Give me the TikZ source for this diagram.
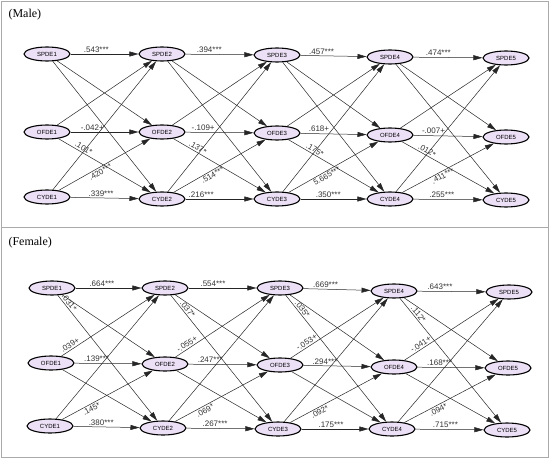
\documentclass[tikz,border=0pt]{standalone}
\usepackage{fontspec}
\setmainfont{Liberation Sans}
\newfontfamily\titlefont{Liberation Serif}
\usetikzlibrary{arrows.meta,shapes.geometric}
\definecolor{nodefill}{RGB}{236,224,246}
\definecolor{framegray}{RGB}{170,170,170}
\tikzset{
    % variable ellipse
    varnode/.style={
        ellipse,
        draw=black,
        line width=1.1pt,
        fill=nodefill,
        minimum width=46pt,
        minimum height=14pt,
        inner sep=0pt,
        font=\fontsize{6}{6}\selectfont
    },
    % path arrow
    patharrow/.style={
        line width=0.5pt,
        black!85,
        -{Triangle[length=9pt, width=5pt]}
    },
    coef/.style={
        font=\fontsize{8}{8}\selectfont,
        inner sep=1.5pt,
        black!80
    },
    paneltitle/.style={
        anchor=west,
        font=\titlefont\fontsize{12}{12}\selectfont
    }
}

\begin{document}
\begin{tikzpicture}[x=1pt,y=-1pt]
   \useasboundingbox (0,0) rectangle (554,460);

   % frame
   \draw[framegray, line width=0.8pt] (1,1) rectangle (548,457);
   \draw[framegray, line width=0.8pt] (1,227.5) -- (548,227.5);

   % (Male)
   \node[paneltitle] (mtitle) at (5,15) {(Male)};
   \node[varnode] (ms1) at (47,54) {SPDE1};
   \node[varnode] (ms2) at (162,54) {SPDE2};
   \node[varnode] (ms3) at (277,55) {SPDE3};
   \node[varnode] (ms4) at (390,57) {SPDE4};
   \node[varnode] (ms5) at (506,58) {SPDE5};
   \node[varnode] (mo1) at (47,132) {OFDE1};
   \node[varnode] (mo2) at (162,132) {OFDE2};
   \node[varnode] (mo3) at (277,133) {OFDE3};
   \node[varnode] (mo4) at (390,135) {OFDE4};
   \node[varnode] (mo5) at (506,137) {OFDE5};
   \node[varnode] (mc1) at (47,197) {CYDE1};
   \node[varnode] (mc2) at (162,199) {CYDE2};
   \node[varnode] (mc3) at (277,199) {CYDE3};
   \node[varnode] (mc4) at (390,199) {CYDE4};
   \node[varnode] (mc5) at (506,200) {CYDE5};

   % (Female)
   \node[paneltitle] (ftitle) at (5,243) {(Female)};
   \node[varnode] (fs1) at (52,288) {SPDE1};
   \node[varnode] (fs2) at (165,288) {SPDE2};
   \node[varnode] (fs3) at (280,288) {SPDE3};
   \node[varnode] (fs4) at (394,291) {SPDE4};
   \node[varnode] (fs5) at (509,292) {SPDE5};
   \node[varnode] (fo1) at (51,363) {OFDE1};
   \node[varnode] (fo2) at (165,364) {OFDE2};
   \node[varnode] (fo3) at (280,365) {OFDE3};
   \node[varnode] (fo4) at (394,367) {OFDE4};
   \node[varnode] (fo5) at (508,368) {OFDE5};
   \node[varnode] (fc1) at (50,426) {CYDE1};
   \node[varnode] (fc2) at (163,428) {CYDE2};
   \node[varnode] (fc3) at (278,429) {CYDE3};
   \node[varnode] (fc4) at (392,429) {CYDE4};
   \node[varnode] (fc5) at (507,430) {CYDE5};

   % cross-lagged paths
   \foreach \g in {m,f}
     \foreach \i/\j in {1/2,2/3,3/4,4/5}
       \foreach \a in {s,o,c}
         \foreach \b in {s,o,c}
           \draw[patharrow] (\g\a\i) -- (\g\b\j);

   % coefficients, male
   \path (ms1) -- (ms2) node[coef,pos=.38,above] {.543***};
   \path (mo1) -- (mo2) node[coef,pos=.32,above] {-.042+};
   \path (mo1) -- (mc2) node[coef,pos=.25,sloped,above] {.101*};
   \path (mc1) -- (mo2) node[coef,pos=.43,sloped,below] {.420***};
   \path (mc1) -- (mc2) node[coef,pos=.45,above] {.339***};

   \path (ms2) -- (ms3) node[coef,pos=.35,above] {.394***};
   \path (mo2) -- (mo3) node[coef,pos=.26,above] {-.109+};
   \path (mo2) -- (mc3) node[coef,pos=.24,sloped,above] {.137*};
   \path (mc2) -- (mo3) node[coef,pos=.4,sloped,below] {.514***};
   \path (mc2) -- (mc3) node[coef,pos=.23,above] {.216***};

   \path (ms3) -- (ms4) node[coef,pos=.32,above] {.457***};
   \path (mo3) -- (mo4) node[coef,pos=.28,above] {.618+};
   \path (mo3) -- (mc4) node[coef,pos=.27,sloped,above] {.175*};
   \path (mc3) -- (mo4) node[coef,pos=.4,sloped,below] {5.665***};
   \path (mc3) -- (mc4) node[coef,pos=.42,above] {.350***};

   \path (ms4) -- (ms5) node[coef,pos=.36,above] {.474***};
   \path (mo4) -- (mo5) node[coef,pos=.29,above] {-.007+};
   \path (mo4) -- (mc5) node[coef,pos=.25,sloped,above] {.012*};
   \path (mc4) -- (mo5) node[coef,pos=.42,sloped,below] {.411***};
   \path (mc4) -- (mc5) node[coef,pos=.41,above] {.255***};

   % coefficients, female
   \path (fs1) -- (fs2) node[coef,pos=.4,above] {.664***};
   \path (fs1) -- (fc2) node[coef,pos=.08,sloped,above] {.031*};
   \path (fo1) -- (fs2) node[coef,pos=.12,sloped,above] {.039+};
   \path (fo1) -- (fo2) node[coef,pos=.33,above] {.139***};
   \path (fc1) -- (fo2) node[coef,pos=.3,sloped,below] {.145*};
   \path (fc1) -- (fc2) node[coef,pos=.42,above] {.380***};

   \path (fs2) -- (fs3) node[coef,pos=.36,above] {.554***};
   \path (fs2) -- (fc3) node[coef,pos=.13,sloped,above] {.037*};
   \path (fo2) -- (fs3) node[coef,pos=.15,sloped,above] {-.055+};
   \path (fo2) -- (fo3) node[coef,pos=.32,above] {.247***};
   \path (fc2) -- (fo3) node[coef,pos=.3,sloped,below] {.069*};
   \path (fc2) -- (fc3) node[coef,pos=.42,above] {.267***};

   \path (fs3) -- (fs4) node[coef,pos=.33,above] {.669***};
   \path (fs3) -- (fc4) node[coef,pos=.13,sloped,above] {.035*};
   \path (fo3) -- (fs4) node[coef,pos=.2,sloped,above] {-.053+};
   \path (fo3) -- (fo4) node[coef,pos=.32,above] {.294***};
   \path (fc3) -- (fo4) node[coef,pos=.3,sloped,below] {.092*};
   \path (fc3) -- (fc4) node[coef,pos=.44,above] {.175***};

   \path (fs4) -- (fs5) node[coef,pos=.33,above] {.643***};
   \path (fs4) -- (fc5) node[coef,pos=.15,sloped,above] {.112*};
   \path (fo4) -- (fs5) node[coef,pos=.2,sloped,above] {-.041+};
   \path (fo4) -- (fo5) node[coef,pos=.33,above] {.168***};
   \path (fc4) -- (fo5) node[coef,pos=.35,sloped,below] {.094*};
   \path (fc4) -- (fc5) node[coef,pos=.44,above] {.715***};

\end{tikzpicture}
\end{document}
